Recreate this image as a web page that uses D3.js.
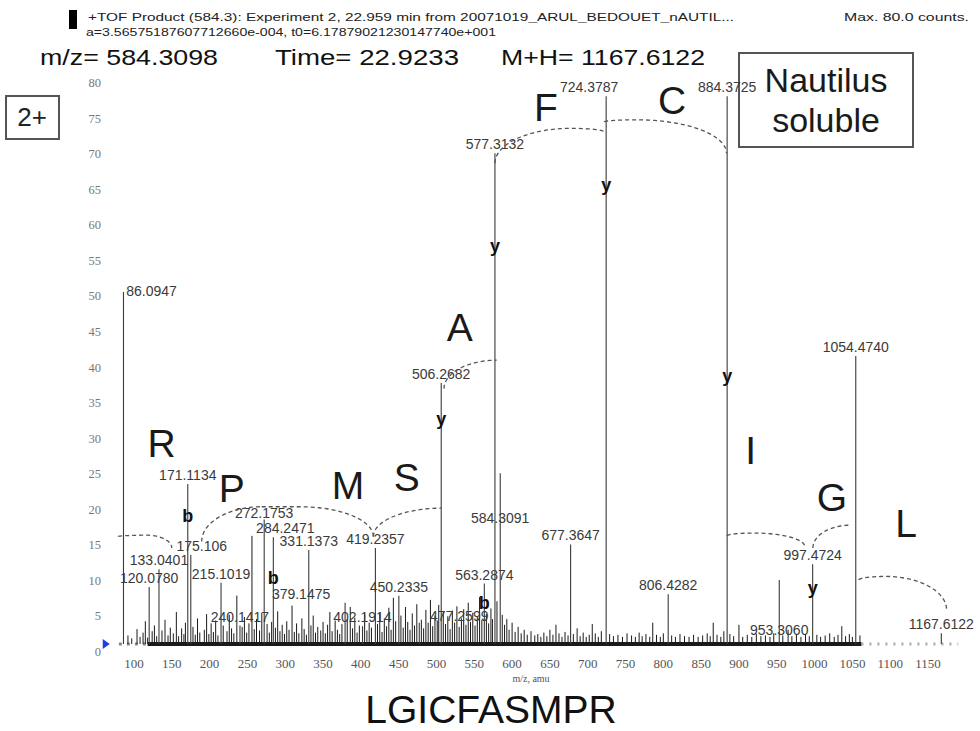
<!DOCTYPE html>
<html>
<head>
<meta charset="utf-8">
<script src="https://cdn.jsdelivr.net/npm/d3@7"></script>
<style>
body { margin: 0; background: #fff; }
svg { display: block; }
</style>
</head>
<body>
<div id="chart"></div>
<script>
// labelled fragment peaks: m/z label and intensity (counts)
const peakLabel = ["86.0947", "120.0780", "133.0401", "171.1134", "175.106", "215.1019", "240.1417",
    "272.1753", "284.2471", "331.1373", "379.1475", "402.1914", "419.2357", "450.2335", "477.2599",
    "506.2682", "563.2874", "577.3132", "584.3091", "677.3647", "724.3787", "806.4282", "884.3725",
    "953.3060", "997.4724", "1054.4740", "1167.6122"];
const peakInt = [49.5, 8, 10.5, 22.5, 12.5, 8.6, 2.6, 17.5, 15, 13.2, 5.8, 2.5, 13.5, 6.8, 3,
    36.7, 8.5, 69, 24, 14, 77, 7, 77, 9, 11.2, 40.5, 1.5];
const peakMz = peakLabel.map(Number);

// unlabelled background peaks [m/z, counts]
const minorPeaks = [
    [92, 1.2], [97, 0.8], [104, 2.1], [108, 1.0], [112, 1.6], [115, 3.2], [118, 0.9], [124, 1.8],
    [127, 2.6], [130, 1.1], [137, 1.9], [141, 3.4], [145, 1.2], [148, 2.3], [152, 1.5], [156, 4.5],
    [159, 1.1], [163, 2.2], [166, 1.4], [168, 3.0], [178, 2.4], [181, 1.3], [184, 3.6], [187, 1.6],
    [193, 2.0], [196, 4.2], [199, 1.4], [202, 2.9], [205, 1.7], [208, 3.3], [211, 1.2], [218, 2.6],
    [223, 1.8], [226, 4.1], [229, 2.2], [232, 1.5], [236, 6.8], [243, 2.4], [246, 3.8], [249, 1.6],
    [252, 2.9], [256, 15.2], [259, 2.1], [262, 3.5], [266, 1.9], [269, 4.4], [276, 2.8], [279, 1.6],
    [282, 3.1], [287, 2.3], [290, 4.6], [293, 1.8], [296, 2.7], [299, 1.4], [302, 3.2], [305, 2.0],
    [309, 5.4], [312, 1.7], [315, 2.9], [318, 1.5], [322, 3.6], [325, 2.1], [328, 1.3], [334, 2.6],
    [337, 4.0], [340, 1.6], [343, 2.4], [347, 1.9], [350, 3.1], [353, 1.5], [356, 2.7], [359, 4.5],
    [362, 1.8], [366, 3.3], [369, 2.0], [372, 1.4], [375, 2.8], [382, 3.5], [386, 5.2], [389, 2.2],
    [392, 3.7], [395, 1.6], [398, 2.6], [405, 4.2], [408, 1.9], [411, 3.0], [414, 2.3], [422, 2.8],
    [425, 4.4], [428, 1.7], [431, 3.6], [434, 2.5], [437, 5.1], [440, 2.0], [443, 6.5], [446, 3.2],
    [453, 4.0], [456, 2.3], [459, 5.2], [462, 3.1], [465, 2.0], [468, 4.3], [471, 2.6], [474, 5.6],
    [480, 3.4], [483, 2.2], [486, 4.8], [489, 3.0], [492, 6.2], [495, 2.5], [498, 4.0], [501, 3.3],
    [503, 5.5], [509, 4.6], [512, 2.8], [515, 3.9], [518, 2.1], [521, 4.7], [524, 3.0], [527, 5.3],
    [530, 2.4], [533, 3.6], [536, 4.9], [539, 2.7], [542, 5.8], [545, 3.1], [548, 4.4], [551, 2.6],
    [554, 3.8], [557, 6.6], [560, 3.4], [566, 4.2], [569, 2.9], [572, 5.0], [574, 3.5], [580, 6.0],
    [587, 4.1], [590, 2.7], [593, 3.5], [596, 2.0], [600, 3.0], [604, 1.7], [608, 2.4], [612, 1.5],
    [616, 2.0], [620, 1.3], [625, 1.8], [630, 1.2], [634, 1.4], [638, 1.0], [642, 1.6], [646, 1.1],
    [650, 2.0], [654, 1.3], [658, 2.7], [662, 1.5], [666, 1.0], [670, 1.7], [674, 1.2], [681, 1.4],
    [686, 2.2], [690, 1.1], [694, 1.6], [698, 1.0], [702, 1.3], [706, 2.8], [710, 1.5], [714, 1.0],
    [718, 1.8], [729, 1.4], [734, 1.1], [740, 1.3], [746, 1.0], [752, 1.5], [758, 1.2], [763, 1.0],
    [768, 1.6], [772, 1.1], [777, 1.4], [782, 1.0], [786, 3.0], [791, 1.3], [796, 1.0], [800, 1.5],
    [811, 1.2], [816, 1.0], [822, 1.4], [828, 1.1], [834, 1.0], [840, 1.3], [846, 1.0], [852, 1.2],
    [858, 1.5], [862, 1.1], [866, 3.0], [871, 1.3], [876, 1.0], [880, 1.8], [888, 1.4], [893, 1.1],
    [900, 2.7], [905, 1.0], [911, 1.3], [917, 1.0], [923, 1.4], [929, 1.1], [935, 1.2], [941, 1.0],
    [946, 1.5], [958, 1.2], [965, 2.0], [970, 1.1], [976, 1.3], [982, 1.0], [988, 1.4], [993, 1.1],
    [1003, 1.3], [1008, 1.0], [1014, 1.2], [1020, 1.5], [1026, 1.0], [1031, 1.3], [1036, 2.5],
    [1041, 1.1], [1046, 1.4], [1050, 1.0], [1060, 1.2]
];

// b / y ion tags sitting on peaks: [ion, m/z, counts]
const ionTags = [["b", 171.1134, 17.9], ["b", 284.2471, 9.2], ["b", 563.2874, 5.7],
    ["y", 506.2682, 31.5], ["y", 577.3132, 55.9], ["y", 724.3787, 64.5],
    ["y", 884.3725, 37.6], ["y", 997.4724, 7.8]];

// sequence ladder: residue letters and the dashed arcs [m1, v1, mTop, vTop, m2, v2]
const residues = ["R", "P", "M", "S", "A", "F", "C", "I", "G", "L"];
const residueMz = [136.5, 229.2, 383, 460.6, 530.8, 644.6, 811.6, 915.5, 1022.8, 1121];
const residueInt = [28.2, 21.9, 22.4, 23.5, 44.6, 75.5, 76.5, 27.3, 20.7, 17.0];
const ladderArcs = [
    [79.2, 15.1, 116.8, 15.3, 149.9, 13.5],
    [189.5, 14.4, 268.9, 19.3, 268.9, 19.3],
    [268.9, 19.3, 319.5, 19.3, 416.5, 15.1],
    [416.5, 15.1, 506.9, 19.1, 506.9, 19.1],
    [510, 35.9, 579.6, 39.9, 579.6, 39.9],
    [577.3, 67.6, 677.1, 72.5, 722, 72.0],
    [722, 73.4, 765.2, 73.7, 883.5, 69.0],
    [884.2, 15.2, 919.9, 15.6, 987, 13.7],
    [997.8, 13.5, 1047.2, 16.7, 1047.2, 16.7],
    [1058.5, 9.0, 1094.2, 9.5, 1174.6, 4.8]
];

const xTicks = d3.range(100, 1151, 50);
const yTicks = d3.range(0, 81, 5);

const width = 980, height = 731;
const x = d3.scaleLinear().domain([100, 1150]).range([134, 928]);
const y = d3.scaleLinear().domain([0, 80]).range([644, 75]);

const svg = d3.select("#chart").append("svg")
    .attr("width", width)
    .attr("height", height)
    .style("font-family", "'Liberation Sans', Arial, sans-serif");

// header
svg.append("rect").attr("x", 69).attr("y", 10).attr("width", 8).attr("height", 19).attr("fill", "#000");
svg.append("text").attr("x", 88).attr("y", 21).attr("font-size", 11.5).attr("fill", "#222")
    .attr("textLength", 646).attr("lengthAdjust", "spacingAndGlyphs")
    .text("+TOF Product (584.3): Experiment 2, 22.959 min from 20071019_ARUL_BEDOUET_nAUTIL...");
svg.append("text").attr("x", 86).attr("y", 36).attr("font-size", 10).attr("fill", "#222")
    .attr("textLength", 410).attr("lengthAdjust", "spacingAndGlyphs")
    .text("a=3.56575187607712660e-004, t0=6.17879021230147740e+001");
svg.append("text").attr("x", 844).attr("y", 21).attr("font-size", 11.5).attr("fill", "#222")
    .attr("textLength", 125).attr("lengthAdjust", "spacingAndGlyphs")
    .text("Max. 80.0 counts.");

const bigHead = [["m/z= 584.3098", 40, 178], ["Time= 22.9233", 275, 184], ["M+H= 1167.6122", 501, 204]];
svg.selectAll("text.head").data(bigHead).join("text")
    .attr("class", "head")
    .attr("x", d => d[1]).attr("y", 65)
    .attr("font-size", 22).attr("fill", "#111")
    .attr("textLength", d => d[2]).attr("lengthAdjust", "spacingAndGlyphs")
    .text(d => d[0]);

// boxes
svg.append("rect").attr("x", 6).attr("y", 96).attr("width", 53).attr("height", 43)
    .attr("fill", "none").attr("stroke", "#555").attr("stroke-width", 2);
svg.append("text").attr("x", 32).attr("y", 126).attr("text-anchor", "middle")
    .attr("font-size", 26).attr("fill", "#222").text("2+");

svg.append("rect").attr("x", 739).attr("y", 53).attr("width", 174).attr("height", 94)
    .attr("fill", "none").attr("stroke", "#555").attr("stroke-width", 2);
svg.append("text").attr("x", 826).attr("y", 92).attr("text-anchor", "middle")
    .attr("font-size", 34).attr("fill", "#1a1a1a").text("Nautilus");
svg.append("text").attr("x", 826).attr("y", 132).attr("text-anchor", "middle")
    .attr("font-size", 34).attr("fill", "#1a1a1a").text("soluble");

// axes (labels only, no domain lines)
svg.append("g").selectAll("text").data(yTicks).join("text")
    .attr("x", 101).attr("y", d => y(d) + 12)
    .attr("text-anchor", "end")
    .attr("font-family", "'Liberation Serif', 'Times New Roman', serif")
    .attr("font-size", 12.5).attr("fill", "#777")
    .text(d => d);

svg.append("g").selectAll("text").data(xTicks).join("text")
    .attr("x", d => x(d)).attr("y", 668)
    .attr("text-anchor", "middle")
    .attr("font-family", "'Liberation Serif', 'Times New Roman', serif")
    .attr("font-size", 13).attr("fill", "#555")
    .text(d => d);

svg.append("text").attr("x", (x(100) + x(1150)) / 2).attr("y", 682)
    .attr("text-anchor", "middle")
    .attr("font-family", "'Liberation Serif', 'Times New Roman', serif")
    .attr("font-size", 10).attr("fill", "#555").text("m/z, amu");

// baseline
svg.append("line").attr("x1", x(80)).attr("x2", x(118)).attr("y1", y(0)).attr("y2", y(0))
    .attr("stroke", "#888").attr("stroke-width", 3).attr("stroke-dasharray", "3,5");
svg.append("line").attr("x1", x(118)).attr("x2", x(1062)).attr("y1", y(0)).attr("y2", y(0))
    .attr("stroke", "#1a1a1a").attr("stroke-width", 4);
svg.append("line").attr("x1", x(1062)).attr("x2", x(1190)).attr("y1", y(0)).attr("y2", y(0))
    .attr("stroke", "#aaa").attr("stroke-width", 3).attr("stroke-dasharray", "2,6");
svg.append("path")
    .attr("d", `M${x(60) - 1},${y(0) - 5} L${x(60) + 6},${y(0)} L${x(60) - 1},${y(0) + 5} Z`)
    .attr("fill", "#1f3fe0");

// peaks
svg.append("g").selectAll("line").data(minorPeaks).join("line")
    .attr("x1", d => x(d[0])).attr("x2", d => x(d[0]))
    .attr("y1", y(0)).attr("y2", d => y(d[1]))
    .attr("stroke", "#1a1a1a").attr("stroke-width", 1);

svg.append("g").selectAll("line").data(peakMz).join("line")
    .attr("x1", d => x(d)).attr("x2", d => x(d))
    .attr("y1", y(0)).attr("y2", (d, i) => y(peakInt[i]))
    .attr("stroke", "#3a3a3a").attr("stroke-width", 1.1);

// label nudges where the original labels were moved off their peaks
const nudge = {
    "86.0947": [28, 8], "175.106": [11, 0], "272.1753": [0, 2], "284.2471": [12, 0],
    "379.1475": [-44, 0], "477.2599": [40, 2], "584.3091": [0, 54], "953.3060": [0, 59],
    "724.3787": [-17, 0]
};
svg.append("g").selectAll("text").data(peakLabel).join("text")
    .attr("x", (d, i) => x(peakMz[i]) + (nudge[d] ? nudge[d][0] : 0))
    .attr("y", (d, i) => y(peakInt[i]) - 4 + (nudge[d] ? nudge[d][1] : 0))
    .attr("text-anchor", "middle")
    .attr("font-size", 14).attr("fill", "#3a3a3a")
    .text(d => d);

// ladder arcs: quarter ellipses rising to a flat top, then falling
function arcPath([m1, v1, ma, va, m2, v2]) {
    const s = [x(m1), y(v1)], a = [x(ma), y(va)], e = [x(m2), y(v2)];
    const pts = [], n = 24;
    for (let i = 0; i <= n; i++) {
        const t = i / n * Math.PI / 2;
        pts.push([a[0] - (a[0] - s[0]) * Math.cos(t), s[1] + (a[1] - s[1]) * Math.sin(t)]);
    }
    for (let i = 1; i <= n; i++) {
        const t = i / n * Math.PI / 2;
        pts.push([a[0] + (e[0] - a[0]) * Math.sin(t), e[1] + (a[1] - e[1]) * Math.cos(t)]);
    }
    return d3.line()(pts);
}
svg.append("g").selectAll("path").data(ladderArcs).join("path")
    .attr("d", arcPath)
    .attr("fill", "none").attr("stroke", "#555")
    .attr("stroke-width", 1.3).attr("stroke-dasharray", "4,3");

// residue letters
svg.append("g").selectAll("text").data(residues).join("text")
    .attr("x", (d, i) => x(residueMz[i]))
    .attr("y", (d, i) => y(residueInt[i]))
    .attr("dy", "0.36em")
    .attr("text-anchor", "middle")
    .attr("font-size", 39).attr("fill", "#1a1a1a")
    .text(d => d);

// b / y tags
svg.append("g").selectAll("text").data(ionTags).join("text")
    .attr("x", d => x(d[1]))
    .attr("y", d => y(d[2]))
    .attr("dy", "0.3em")
    .attr("text-anchor", "middle")
    .attr("font-size", 18).attr("font-weight", "bold").attr("fill", "#111")
    .text(d => d[0]);

// peptide sequence
svg.append("text").attr("x", 491).attr("y", 723).attr("text-anchor", "middle")
    .attr("font-size", 39).attr("fill", "#111").text("LGICFASMPR");
</script>
</body>
</html>
